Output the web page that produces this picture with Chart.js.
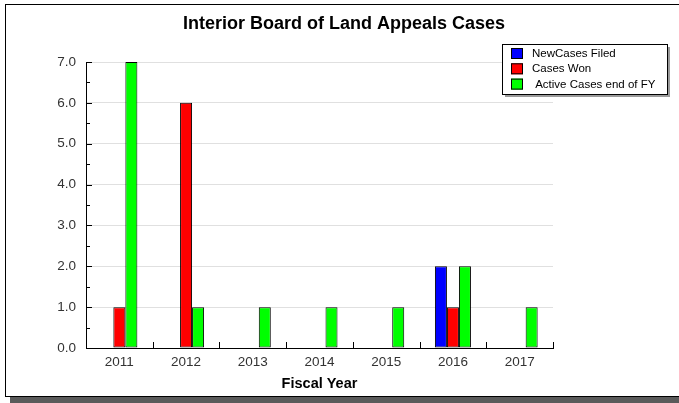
<!DOCTYPE html>
<html>
<head>
<meta charset="utf-8">
<script src="https://cdn.jsdelivr.net/npm/chart.js@4"></script>
<style>
  html, body { margin: 0; padding: 0; background: #fff; overflow: hidden; }
  body { width: 679px; height: 403px; position: relative; }
  #frame {
    position: absolute; left: 5px; top: 4px; width: 720px; height: 391px;
    border: 1.5px solid #000; box-shadow: 5px 6px 0 #5a5a5a; background: #fff;
  }
  #wrap { position: absolute; left: 0; top: 0; width: 679px; height: 403px; }
</style>
</head>
<body>
<div id="frame"></div>
<div id="wrap"><canvas id="chart" width="679" height="403"></canvas></div>
<script>
const years = ["2011", "2012", "2013", "2014", "2015", "2016", "2017"];
const newCasesFiled = [0, 0, 0, 0, 0, 2, 0];
const casesWon = [1, 6, 0, 0, 0, 1, 0];
const activeCases = [7, 1, 1, 1, 1, 2, 1];
const seriesNames = ["NewCases Filed", "Cases Won", " Active Cases end of FY"];
const seriesColors = ["#0000ff", "#ff0000", "#00ff00"];
const chartTitle = "Interior Board of Land Appeals Cases";
const xTitle = "Fiscal Year";

const FONT = "'Liberation Sans', Arial, sans-serif";

// title, legend box and the little axis ticks drawn by hand
const extras = {
  id: "extras",
  afterDraw(chart) {
    const ctx = chart.ctx;
    const x = chart.scales.x, y = chart.scales.y;
    ctx.save();

    // title
    ctx.fillStyle = "#000";
    ctx.font = "bold 18px " + FONT;
    ctx.textAlign = "center";
    ctx.textBaseline = "middle";
    ctx.fillText(chartTitle, 344, 24);

    // y ticks, pointing inward
    ctx.strokeStyle = "#000";
    ctx.lineWidth = 1;
    for (let v = 0; v <= y.max; v += 0.5) {
      const py = Math.round(y.getPixelForValue(v)) + 0.5;
      const len = Number.isInteger(v) ? 6 : 4;
      ctx.beginPath();
      ctx.moveTo(x.left, py);
      ctx.lineTo(x.left + len, py);
      ctx.stroke();
    }
    // x ticks at category boundaries, pointing up
    const n = chart.data.labels.length;
    for (let i = 1; i <= n; i++) {
      const px = Math.round(x.left + i * x.width / n) + 0.5;
      ctx.beginPath();
      ctx.moveTo(px, y.bottom);
      ctx.lineTo(px, y.bottom - 6);
      ctx.stroke();
    }

    // legend box
    const bx = 502, by = 44, bw = 165, bh = 50;
    ctx.fillStyle = "#9a9a9a";
    ctx.fillRect(bx + 3, by + 3, bw, bh);
    ctx.fillStyle = "#fff";
    ctx.fillRect(bx, by, bw, bh);
    ctx.strokeRect(bx + 0.5, by + 0.5, bw, bh);
    ctx.font = "11.5px " + FONT;
    ctx.textAlign = "left";
    chart.data.datasets.forEach((ds, i) => {
      const ry = by + 4 + i * 15.3;
      ctx.fillStyle = ds.backgroundColor;
      ctx.fillRect(bx + 9, ry, 12, 11);
      ctx.strokeStyle = "#000";
      ctx.strokeRect(bx + 9.5, ry + 0.5, 11, 10);
      ctx.fillStyle = "#000";
      ctx.fillText(ds.label, bx + 30, ry + 6);
    });
    ctx.restore();
  }
};

const datasets = [newCasesFiled, casesWon, activeCases].map((vals, i) => ({
  label: seriesNames[i],
  data: vals,
  backgroundColor: seriesColors[i],
  borderColor: "#000",
  borderWidth: 1,
  borderSkipped: false,
  categoryPercentage: 0.54,
  barPercentage: 1.0
}));

new Chart(document.getElementById("chart"), {
  type: "bar",
  data: { labels: years, datasets: datasets },
  options: {
    responsive: false,
    animation: false,
    layout: { padding: { top: 62, right: 126, left: 0, bottom: 0 } },
    plugins: {
      legend: { display: false },
      title: { display: false },
      tooltip: { enabled: false }
    },
    scales: {
      x: {
        grid: { display: false, drawTicks: false },
        border: { display: true, color: "#000", width: 1 },
        ticks: { color: "#333", font: { family: FONT, size: 13.5 }, padding: 6 },
        title: {
          display: true, text: xTitle, color: "#000",
          font: { family: FONT, size: 14.5, weight: "bold" },
          padding: { top: 2, bottom: 10 }
        },
        afterFit(s) { s.height = 55; }
      },
      y: {
        min: 0, max: 7,
        grid: {
          drawTicks: false,
          color: (c) => (c.tick && c.tick.value > 0 ? "#e0e0e0" : "rgba(0,0,0,0)")
        },
        border: { display: true, color: "#000", width: 1 },
        ticks: {
          stepSize: 1, padding: 10, color: "#333",
          font: { family: FONT, size: 13.5 },
          callback: (v) => Number(v).toFixed(1)
        },
        afterFit(s) { s.width = 86; }
      }
    }
  },
  plugins: [extras]
});
</script>
</body>
</html>
